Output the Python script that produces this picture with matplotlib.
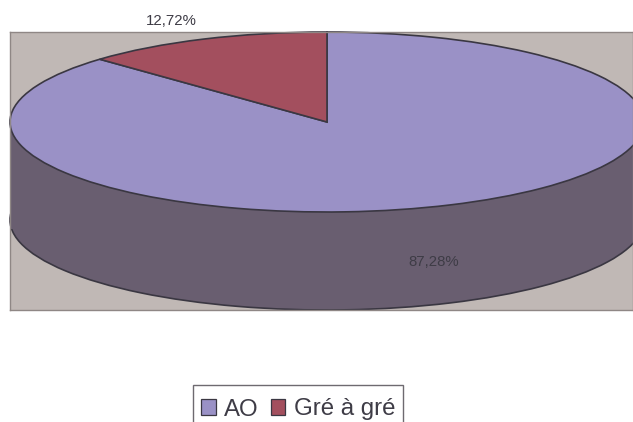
import matplotlib
matplotlib.use("Agg")
import matplotlib.pyplot as plt
from matplotlib.patches import Rectangle

plt.rcParams["font.family"] = ["Liberation Sans", "DejaVu Sans"]

LABELS = ["AO", "Gré à gré"]
SHARES = [87.28, 12.72]
COLORS = ["#9a91c6", "#a34f5e"]

SIDE = "#695e70"
EDGE = "#3a3742"
PLOT_BG = "#c0b8b5"
TEXT = "#3e3c46"

W, H = 633, 422
DEPTH = 98 / 90  # disc thickness, in radii of the vertical axis

fig = plt.figure(figsize=(W / 100, H / 100), dpi=100, facecolor="white")
ax = fig.add_axes([10 / W, 1 - 310 / H, (W - 10) / W, 278 / H])

wedge_style = {"edgecolor": EDGE, "linewidth": 1.2}

# side wall: lower disc plus a band up to the top disc
ax.pie(SHARES, colors=[SIDE, SIDE], center=(0, -DEPTH), startangle=90,
       counterclock=False, wedgeprops=wedge_style, normalize=True)
ax.add_patch(Rectangle((-1, -DEPTH - 0.1), 2, DEPTH + 0.1, facecolor=SIDE,
                       edgecolor="none"))

wedges, _ = ax.pie(SHARES, colors=COLORS, startangle=90, counterclock=False,
                   wedgeprops=wedge_style, normalize=True)

# the disc is an ellipse, so undo the equal aspect set by pie
ax.set_aspect("auto")
ax.set_xlim(-1, 306 / 317)
ax.set_ylim(-188 / 90, 1)
ax.set_frame_on(True)
ax.set_facecolor(PLOT_BG)
for spine in ax.spines.values():
    spine.set_color("#8f8785")
    spine.set_linewidth(1.0)


def pct(v):
    return f"{v:.2f}%".replace(".", ",")


fig.text(171 / W, 1 - 21 / H, pct(SHARES[1]), ha="center", va="center",
         fontsize=10.8, color=TEXT)
fig.text(434 / W, 1 - 262 / H, pct(SHARES[0]), ha="center", va="center",
         fontsize=10.8, color=TEXT)

leg = fig.legend(wedges, LABELS, loc="center", ncol=2,
                 bbox_to_anchor=(298 / W, 1 - 409.5 / H), fontsize=17.3,
                 frameon=False, labelcolor=TEXT, handlelength=0.62,
                 handleheight=0.66, handletextpad=0.35, columnspacing=0.5,
                 borderpad=0.4, borderaxespad=0)
for handle in leg.get_patches():
    handle.set_linewidth(0.9)

# legend box runs off the bottom edge of the figure
fig.add_artist(Rectangle((193 / W, -10 / H), 210 / W, 47.5 / H,
                         transform=fig.transFigure, facecolor="none",
                         edgecolor="#6e6a70", linewidth=1.0))

fig.savefig("out.png", dpi=100)
